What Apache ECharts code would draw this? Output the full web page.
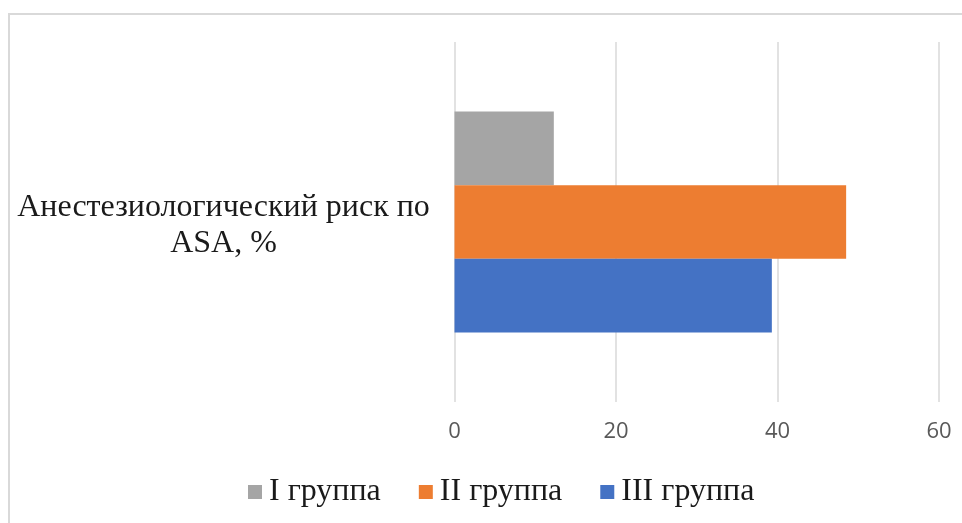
<!DOCTYPE html>
<html>
<head>
<meta charset="utf-8">
<style>
  html, body { margin: 0; padding: 0; background: #fff; }
  #chart { width: 962px; height: 523px; }
</style>
<script src="https://cdn.jsdelivr.net/npm/echarts@6/dist/echarts.min.js"></script>
</head>
<body>
<div id="chart"></div>
<script>
// Category, group names and values
const categories = ['Анестезиологический риск по\nASA, %'];
const groupNames = ['I группа', 'II группа', 'III группа'];
const groupI = [12.3];
const groupII = [48.5];
const groupIII = [39.3];
const groupColors = ['#a5a5a5', '#ed7d31', '#4472c4'];
const xTicks = { min: 0, max: 60, interval: 20 };

const serif = '"Liberation Serif", "DejaVu Serif", serif';
const sans = '"Open Sans", "Noto Sans", sans-serif';

const chart = echarts.init(document.getElementById('chart'), null, { renderer: 'canvas' });

const values = [groupI, groupII, groupIII];

chart.setOption({
  animation: false,
  backgroundColor: '#ffffff',
  graphic: [{
    type: 'rect',
    shape: { x: 9, y: 14, width: 2000, height: 2000 },
    style: { fill: 'none', stroke: '#d9d9d9', lineWidth: 2 },
    silent: true,
    z: -1
  }],
  grid: { left: 454.5, right: 23, top: 42, bottom: 121 },
  legend: {
    data: groupNames,
    left: 243,
    top: 471,
    icon: 'rect',
    itemWidth: 14,
    itemHeight: 14,
    itemGap: 38,
    textStyle: { fontFamily: serif, fontSize: 32, color: '#1a1a1a', padding: [0, 0, 0, 2] }
  },
  xAxis: {
    type: 'value',
    min: xTicks.min,
    max: xTicks.max,
    interval: xTicks.interval,
    axisLine: { show: false },
    axisTick: { show: false },
    splitLine: { lineStyle: { color: '#d9d9d9', width: 1.5 } },
    axisLabel: { fontFamily: sans, fontSize: 22, color: '#595959', margin: 19 }
  },
  yAxis: {
    type: 'category',
    data: categories,
    inverse: true,
    axisLine: { show: false },
    axisTick: { show: false },
    axisLabel: {
      align: 'center',
      margin: 231,
      // small spacer line on top nudges the two text lines slightly down
      formatter: (v) => '{s| }\n' + v.split('\n').map((l) => '{a|' + l + '}').join('\n'),
      rich: {
        s: { fontSize: 4, lineHeight: 8 },
        a: { fontFamily: serif, fontSize: 32, lineHeight: 36, color: '#1a1a1a', align: 'center' }
      }
    }
  },
  series: groupNames.map((name, i) => ({
    name: name,
    type: 'bar',
    data: values[i],
    barGap: '0%',
    barCategoryGap: '38.6%',
    itemStyle: { color: groupColors[i] }
  }))
});
</script>
</body>
</html>
